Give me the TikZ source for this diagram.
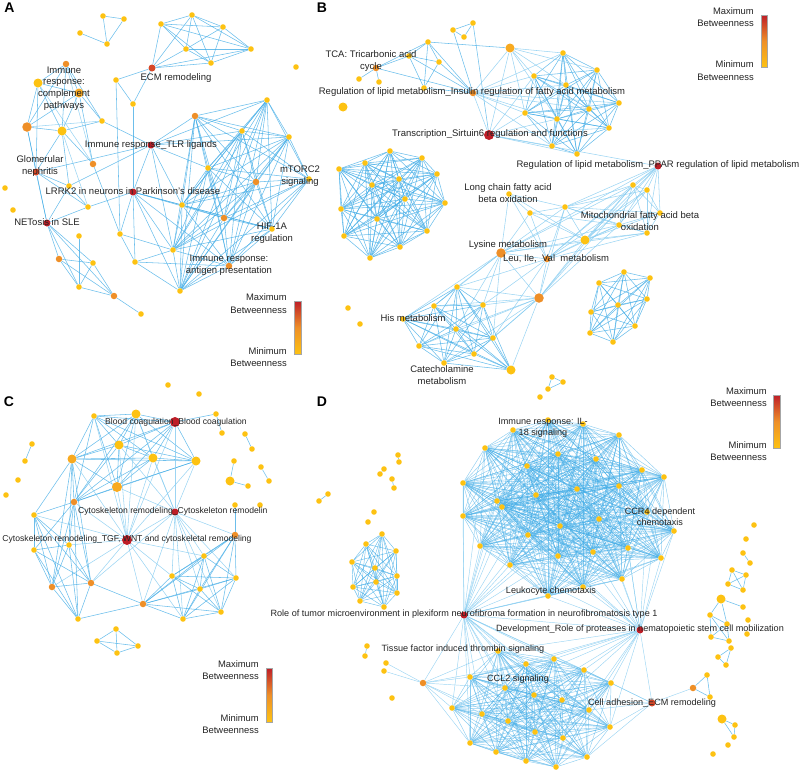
\documentclass[tikz,border=0pt]{standalone}
\usepackage{fontspec}
\setmainfont{Liberation Sans}
\usetikzlibrary{backgrounds}
\definecolor{yel}{RGB}{253,194,18}
\definecolor{yor}{RGB}{248,170,32}
\definecolor{org}{RGB}{238,143,40}
\definecolor{ord}{RGB}{214,72,40}
\definecolor{redd}{RGB}{190,30,40}
\definecolor{eb}{RGB}{66,172,230}
\definecolor{el}{RGB}{132,203,240}
\definecolor{txt}{RGB}{35,35,35}
\newcommand\mknode[4]{\node[#1] (#2) at (#3,#4) {};}
\newcommand\myclique[2][]{\foreach \u [count=\i] in {#2}{\foreach \v [count=\j] in {#2}{\ifnum\i<\j\relax\draw[edge,#1] (\u) -- (\v);\fi}}}
\newcommand\myfan[3][]{\foreach \v in {#3}{\draw[edge,#1] (#2) -- (\v);}}
\newcommand\mypairs[2][]{\foreach \p/\q in {#2}{\draw[edge,#1] (\p) -- (\q);}}
\begin{document}
\begin{tikzpicture}[x=1pt,y=-1pt,
 dot/.style={circle,inner sep=0pt,minimum size=5.6pt,fill=yel,draw=none},
 dY/.style={dot},
 dYb/.style={dot,minimum size=9pt},
 dYo/.style={dot,minimum size=9pt,fill=yor},
 dO/.style={dot,minimum size=6.5pt,fill=org},
 dOb/.style={dot,minimum size=9.5pt,fill=org},
 dOR/.style={dot,minimum size=7pt,fill=ord},
 dR/.style={dot,minimum size=7pt,fill=redd},
 dRb/.style={dot,minimum size=10pt,fill=redd},
 edge/.style={draw=eb,line width=0.55pt,opacity=0.78},
 lite/.style={draw=el,opacity=0.8},
 lblA/.style={inner sep=0pt,align=center,text=txt,font=\fontsize{9.5}{11.6}\selectfont},
 lblB/.style={inner sep=0pt,align=center,text=txt,font=\fontsize{9.5}{12.4}\selectfont},
 lblC/.style={inner sep=0pt,align=center,text=txt,font=\fontsize{8.6}{10}\selectfont},
 lblD/.style={inner sep=0pt,align=center,text=txt,font=\fontsize{9.1}{10.8}\selectfont},
 cbt/.style={inner sep=0pt,align=right,anchor=east,text=txt,font=\fontsize{9.4}{12.5}\selectfont},
 pl/.style={inner sep=0pt,font=\fontsize{14}{14}\selectfont\bfseries},
 cbar/.style={draw=gray!70,line width=0.6pt,top color=redd,bottom color=yel,middle color=org}
]
\useasboundingbox (0,0) rectangle (800,771);

% ---------------- Panel A ----------------
\node[pl] (pA) at (9.5,8) {A};
\mknode{dY}{a1}{103}{16}\mknode{dY}{a2}{124}{19}\mknode{dY}{a3}{107}{44}\mknode{dY}{a4}{80}{33}
\mknode{dY}{e1}{161}{24}\mknode{dY}{e2}{192}{15}\mknode{dY}{e3}{223}{27}\mknode{dY}{e4}{186}{49}
\mknode{dY}{e5}{211}{63}\mknode{dY}{e6}{251}{49}\mknode{dOR}{ecm}{152}{68}
\mknode{dY}{a5}{116}{80}\mknode{dY}{a6}{133}{104}\mknode{dY}{aiso}{296}{67}
\mknode{dO}{c1}{66}{64}\mknode{dYb}{c2}{38}{83}\mknode{dYo}{c3}{79}{93}\mknode{dOb}{c4}{27}{127}
\mknode{dYb}{c5}{62}{131}\mknode{dY}{c6}{102}{121}\mknode{dOR}{glom}{36}{172}\mknode{dO}{c7}{93}{164}
\mknode{dY}{c8}{69}{186}\mknode{dY}{c9}{88}{207}\mknode{dR}{net}{47}{223}
\mknode{dY}{ai1}{5}{188}\mknode{dY}{ai2}{13}{210}
\mknode{dY}{d1}{79}{236}\mknode{dO}{d2}{59}{259}\mknode{dY}{d3}{93}{263}\mknode{dY}{d4}{79}{287}
\mknode{dO}{d5}{114}{296}\mknode{dY}{d6}{141}{314}
\mknode{dR}{tlr}{151}{145}\mknode{dR}{lrrk}{133}{192}
\mknode{dY}{r1}{120}{234}\mknode{dY}{r2}{135}{262}\mknode{dY}{r3}{173}{250}\mknode{dY}{r4}{180}{291}
\mknode{dY}{r5}{182}{205}\mknode{dO}{r6}{195}{116}\mknode{dY}{r7}{208}{168}\mknode{dO}{r8}{224}{218}
\mknode{dO}{r9}{229}{266}\mknode{dY}{r10}{242}{131}\mknode{dO}{r11}{256}{182}\mknode{dY}{r12}{267}{100}
\mknode{dY}{r13}{289}{137}\mknode{dY}{mt}{309}{179}\mknode{dY}{hif}{272}{229}

% ---------------- Panel B ----------------
\node[pl] (pB) at (322,8) {B};
\mknode{dY}{bt1}{453}{30}\mknode{dY}{bt2}{473}{23}\mknode{dY}{bt3}{464}{37}
\mknode{dO}{tca}{376}{68}\mknode{dY}{b1}{359}{79}\mknode{dY}{b2}{379}{82}\mknode{dYb}{biso}{343}{107}
\mknode{dY}{b3}{409}{56}\mknode{dY}{b4}{428}{42}\mknode{dY}{b5}{439}{62}\mknode{dY}{b6}{424}{88}
\mknode{dO}{ins}{473}{93}\mknode{dYo}{bb}{510}{48}
\mknode{dY}{tr1}{563}{53}\mknode{dY}{tr2}{534}{76}\mknode{dY}{tr3}{566}{85}\mknode{dY}{tr4}{597}{70}
\mknode{dY}{tr5}{619}{103}\mknode{dY}{tr6}{589}{109}\mknode{dY}{tr7}{557}{119}\mknode{dY}{tr8}{525}{113}
\mknode{dY}{tr9}{609}{128}\mknode{dY}{tr10}{552}{146}\mknode{dY}{tr11}{577}{154}
\mknode{dRb}{sirt}{489}{135}\mknode{dR}{ppar}{658}{166}
\mknode{dY}{bl1}{390}{151}\mknode{dY}{bl2}{422}{158}\mknode{dY}{bl3}{365}{163}\mknode{dY}{bl4}{339}{169}
\mknode{dY}{bl5}{437}{174}\mknode{dY}{bl6}{399}{179}\mknode{dY}{bl7}{372}{185}\mknode{dY}{bl8}{405}{199}
\mknode{dY}{bl9}{445}{203}\mknode{dY}{bl10}{341}{209}\mknode{dY}{bl11}{377}{219}\mknode{dY}{bl12}{427}{231}
\mknode{dY}{bl13}{344}{236}\mknode{dY}{bl14}{400}{247}\mknode{dY}{bl15}{370}{258}
\mknode{dY}{lc}{509}{194}\mknode{dY}{m1}{530}{213}\mknode{dY}{m2}{565}{207}\mknode{dY}{m3}{633}{185}
\mknode{dY}{m4}{647}{190}\mknode{dY}{m5}{660}{213}\mknode{dY}{m6}{619}{225}\mknode{dY}{m7}{647}{233}
\mknode{dYb}{m8}{585}{240}\mknode{dOb}{lys}{501}{253}\mknode{dO}{leu}{547}{259}\mknode{dOb}{m9}{539}{298}
\mknode{dY}{lo1}{457}{287}\mknode{dY}{lo2}{434}{306}\mknode{dY}{lo3}{483}{305}\mknode{dY}{his}{403}{319}
\mknode{dY}{lo4}{456}{329}\mknode{dY}{lo5}{493}{338}\mknode{dY}{lo6}{419}{346}\mknode{dY}{lo7}{474}{354}
\mknode{dY}{lo8}{444}{363}\mknode{dYb}{lo9}{511}{370}
\mknode{dY}{rc1}{624}{272}\mknode{dY}{rc2}{599}{283}\mknode{dY}{rc3}{650}{278}\mknode{dY}{rc4}{618}{305}
\mknode{dY}{rc5}{647}{299}\mknode{dY}{rc6}{591}{312}\mknode{dY}{rc7}{635}{326}\mknode{dY}{rc8}{590}{333}
\mknode{dY}{rc9}{613}{342}
\mknode{dY}{bi2}{348}{308}\mknode{dY}{bi3}{360}{324}
\mknode{dY}{bq1}{552}{377}\mknode{dY}{bq2}{563}{382}\mknode{dY}{bq3}{548}{389}\mknode{dY}{bq4}{540}{397}

% ---------------- Panel C ----------------
\node[pl] (pC) at (9,402) {C};
\mknode{dY}{cc1}{94}{416}\mknode{dYb}{cc2}{136}{414}\mknode{dRb}{bc}{175}{422}\mknode{dYb}{cc3}{119}{445}
\mknode{dYb}{cc4}{153}{458}\mknode{dYo}{cc5}{72}{459}\mknode{dYb}{cc6}{196}{461}
\node[dYo,minimum size=10pt] (cc7) at (117,487) {};
\mknode{dO}{cc8}{74}{502}\mknode{dR}{cr}{175}{512}\mknode{dY}{cc9}{34}{515}\mknode{dRb}{tgf}{127}{540}
\mknode{dY}{cc10}{34}{550}\mknode{dY}{cc11}{69}{545}\mknode{dO}{cc12}{52}{587}\mknode{dO}{cc13}{91}{583}
\mknode{dY}{cc14}{78}{619}\mknode{dO}{cc15}{143}{604}\mknode{dY}{cc16}{172}{576}\mknode{dY}{cc17}{204}{556}
\mknode{dY}{cc18}{236}{578}\mknode{dY}{cc19}{200}{589}\mknode{dY}{cc20}{221}{612}\mknode{dY}{cc21}{183}{619}
\mknode{dO}{cc22}{235}{535}\mknode{dY}{cc23}{216}{414}\mknode{dY}{cc24}{222}{433}\mknode{dY}{cc25}{235}{505}
\mknode{dY}{ci1}{168}{385}\mknode{dY}{ci2}{199}{394}\mknode{dY}{cp1}{245}{434}\mknode{dY}{cp2}{252}{449}
\mknode{dY}{cp3}{234}{461}\mknode{dYb}{cp4}{230}{481}\mknode{dY}{cp5}{248}{486}\mknode{dY}{cp6}{261}{467}
\mknode{dY}{cp7}{269}{481}\mknode{dY}{cp8}{32}{444}\mknode{dY}{cp9}{25}{461}\mknode{dY}{ci3}{18}{480}
\mknode{dY}{ci4}{6}{495}\mknode{dY}{ci5}{260}{505}
\mknode{dY}{dm1}{116}{629}\mknode{dY}{dm2}{97}{641}\mknode{dY}{dm3}{138}{646}\mknode{dY}{dm4}{117}{653}

% ---------------- Panel D ----------------
\node[pl] (pD) at (322,402) {D};
\mknode{dY}{t1}{513}{430}\mknode{dY}{t2}{583}{424}\mknode{dY}{il}{548}{420}\mknode{dY}{t3}{619}{435}
\mknode{dY}{t4}{485}{448}\mknode{dY}{t5}{558}{454}\mknode{dY}{t6}{596}{459}\mknode{dY}{t7}{527}{466}
\mknode{dY}{t8}{642}{470}\mknode{dY}{t9}{664}{477}\mknode{dY}{t10}{463}{483}\mknode{dY}{t11}{577}{489}
\mknode{dY}{t12}{619}{486}\mknode{dY}{t13}{536}{495}\mknode{dY}{t14}{497}{501}\mknode{dY}{t15}{502}{507}
\mknode{dY}{ccr}{647}{512}\mknode{dY}{t16}{599}{519}\mknode{dY}{t17}{560}{526}\mknode{dY}{t18}{463}{516}
\mknode{dY}{t19}{674}{531}\mknode{dY}{t20}{528}{535}\mknode{dY}{t21}{480}{546}\mknode{dY}{t22}{628}{548}
\mknode{dY}{t23}{593}{552}\mknode{dY}{t24}{558}{556}\mknode{dY}{t25}{661}{558}\mknode{dY}{t26}{510}{565}
\mknode{dY}{t27}{622}{579}\mknode{dY}{t28}{583}{587}\mknode{dY}{leuk}{548}{596}
\mknode{dR}{rt}{464}{615}\mknode{dR}{dv}{640}{630}
\mknode{dY}{tf}{498}{651}\mknode{dOR}{cam}{652}{703}\mknode{dO}{od}{423}{683}
\mknode{dY}{u1}{554}{659}\mknode{dY}{u2}{526}{664}\mknode{dY}{u3}{584}{670}\mknode{dY}{u4}{470}{677}
\mknode{dY}{u5}{611}{683}\mknode{dY}{u6}{505}{688}\mknode{dY}{u7}{534}{695}\mknode{dY}{u8}{562}{700}
\mknode{dY}{u9}{452}{708}\mknode{dY}{u10}{589}{710}\mknode{dY}{u11}{482}{714}\mknode{dY}{u12}{508}{721}
\mknode{dY}{u13}{610}{727}\mknode{dY}{u14}{535}{732}\mknode{dY}{u15}{563}{738}\mknode{dY}{u16}{470}{743}
\mknode{dY}{u17}{496}{752}\mknode{dY}{u18}{587}{757}\mknode{dY}{u19}{526}{761}\mknode{dY}{u20}{556}{767}
\mknode{dY}{l1}{382}{534}\mknode{dY}{l2}{366}{544}\mknode{dY}{l3}{396}{551}\mknode{dY}{l4}{352}{562}
\mknode{dY}{l5}{375}{568}\mknode{dY}{l6}{397}{576}\mknode{dY}{l7}{376}{582}\mknode{dY}{l8}{353}{587}
\mknode{dY}{l9}{397}{593}\mknode{dY}{l10}{360}{601}\mknode{dY}{l11}{384}{607}
\mknode{dY}{s1}{398}{455}\mknode{dY}{s2}{399}{462}\mknode{dY}{s3}{384}{469}\mknode{dY}{s4}{380}{474}
\mknode{dY}{s5}{392}{479}\mknode{dY}{s6}{394}{488}\mknode{dY}{s7}{328}{494}\mknode{dY}{s8}{319}{501}
\mknode{dY}{s9}{374}{512}\mknode{dY}{s10}{368}{522}\mknode{dY}{s11}{367}{646}\mknode{dY}{s12}{365}{656}
\mknode{dY}{od1}{386}{663}\mknode{dY}{od2}{384}{671}\mknode{dY}{s13}{392}{698}
\mknode{dY}{q1}{754}{525}\mknode{dY}{q2}{746}{539}\mknode{dY}{q3}{743}{553}\mknode{dY}{q4}{750}{563}
\mknode{dY}{q5}{732}{570}\mknode{dY}{q6}{746}{575}\mknode{dY}{q7}{728}{584}\mknode{dY}{q8}{743}{590}
\mknode{dYb}{q9}{721}{599}\mknode{dY}{q10}{743}{607}\mknode{dY}{q11}{710}{615}\mknode{dY}{q12}{727}{624}
\mknode{dY}{q13}{748}{620}\mknode{dY}{q14}{747}{634}\mknode{dY}{q15}{711}{637}\mknode{dY}{q16}{729}{641}
\mknode{dY}{q17}{731}{648}\mknode{dY}{q18}{718}{657}\mknode{dY}{q19}{726}{665}
\mknode{dO}{q20}{693}{688}\mknode{dY}{q21}{707}{675}\mknode{dY}{q22}{710}{697}
\mknode{dYb}{q23}{722}{719}\mknode{dY}{q24}{735}{725}\mknode{dY}{q25}{734}{737}
\mknode{dY}{q26}{728}{745}\mknode{dY}{q27}{713}{754}

% ================= EDGES =================
\begin{scope}[on background layer]
% A
\mypairs{a1/a2,a1/a3,a2/a3,a4/a3}
\myclique{e1,e2,e3,e4,e5,e6}
\mypairs{ecm/e1,ecm/e4,ecm/e5,ecm/e6,ecm/e2,ecm/a5,ecm/a6,a5/a6,a5/r1,a6/lrrk}
\myclique{c1,c2,c3,c4,c5}
\mypairs{c3/c6,c5/c6,c1/c6,c2/glom,c4/glom,c5/glom,c5/c7,glom/c8,glom/net,c8/c9,c8/net,c9/net,glom/c9,c3/c7,c7/r1,tlr/glom,tlr/c8,c9/lrrk,c4/net,c5/c8}
\mypairs[lite]{c4/c6,c2/c7,c1/c7,c5/c9}
\mypairs{net/d2,net/d4,net/d5,net/d3,d1/d4,d2/d3,d2/d4,d2/d5,d3/d4,d3/d5,d4/d5,d5/d6}
\myclique{r3,r4,r5,r6,r7,r8,r9,r10,r11,r12,r13,mt,hif}
\myfan{tlr}{r6,r7,r10,r12,r13,r5,lrrk,r3,c6}
\myfan{lrrk}{r1,r2,r4,r5,r8,hif,r3,r9}
\mypairs{r1/r2,r1/r3,r2/r3,r2/r9,r2/r4}
% B
\mypairs{bt1/bt2,bt1/bt3,bt2/bt3,bt1/ins,bt2/sirt}
\mypairs{tca/b1,tca/b2,tca/b3,tca/b4,b3/b4,b3/b5,b4/b5,b3/b6,b4/b6,b5/b6,b6/ins,b4/bb,b4/ins,b5/ins,b3/ins,tca/ins}
\myclique{tr1,tr2,tr3,tr4,tr5,tr6,tr7,tr8,tr9,tr10,tr11}
\myfan[lite]{bb}{ins,sirt,tr1,tr2,tr3,tr4,tr8,tr7}
\myfan[lite]{ins}{sirt,tr1,tr2,tr3,tr8,tr7,tr10,tr6,tr5}
\myfan[lite]{sirt}{tr8,tr7,tr10,tr11,tr2,tr9,ppar}
\myclique{bl1,bl2,bl3,bl4,bl5,bl6,bl7,bl8,bl9,bl10,bl11,bl12,bl13,bl14,bl15}
\myclique[lite]{ppar,m2,m3,m4,m5,m6,m7,m8}
\myfan[lite]{ppar}{lys,m9,leu}
\myfan[lite]{lc}{m1,m2,lys,leu,m8}
\myfan[lite]{m1}{m2,lys,leu,m8,m6}
\myfan[lite]{lys}{m2,m8,m3,m6,m7,leu,m9,lo1,lo2,lo3,his,lo4,lo5}
\myfan[lite]{leu}{m2,m8,m3,m4,m6,m7,m9,lo1,lo3,lo5}
\myfan[lite]{m9}{m8,m2,m3,m6,lo1,lo2,lo3,lo4,lo5,lo6,lo7,lo8,lo9}
\myclique{lo1,lo2,lo3,his,lo4,lo5,lo6,lo7,lo8,lo9}
\myclique{rc1,rc2,rc3,rc4,rc5,rc6,rc7,rc8,rc9}
\mypairs{bq1/bq2,bq1/bq3,bq2/bq3}
% C
\myclique{cc1,cc2,bc,cc3,cc4,cc5,cc6,cc7,cc8}
\myfan[lite]{cr}{bc,cc3,cc4,cc6,cc7,cc2,tgf,cc16,cc17,cc18,cc19,cc20,cc21,cc22,cc15,cc13}
\myfan[lite]{tgf}{cc2,cc3,cc4,cc7,cc5,cc8,cc9,cc11,cc13,cc12,cc15,cc16,cc17,cc21,cc6,bc,cc1}
\myclique{cc9,cc10,cc11,cc12,cc13,cc8,cc14}
\myfan{cc5}{cc9,cc11,cc13,cc12}
\myclique{cc15,cc16,cc17,cc18,cc19,cc20,cc21,cc22}
\mypairs{cc14/cc15,cc13/cc15,bc/cc23,cc23/cc24,cc25/cc22,cp1/cp2,cp3/cp4,cp4/cp5,cp6/cp7,cp8/cp9}
\myclique{dm1,dm2,dm3,dm4}
% D
\myclique[line width=0.45pt,opacity=0.6]{il,t1,t2,t3,t4,t5,t6,t7,t8,t9,t10,t11,t12,t13,t14,t15,ccr,t16,t17,t18,t19,t20,t21,t22,t23,t24,t25,t26,t27,t28,leuk}
\myfan[lite,line width=0.45pt]{rt}{t10,t18,t21,t26,leuk,t24,t28,t27,t4,t14,t15,t20,t17,t13,t22,t12,t1,t7,tf,u1,u2,u3,u4,u5,u6,u7,u8,u9,u10,u11,u12,u14,u16,od,dv}
\myfan[lite,line width=0.45pt]{dv}{t27,t28,leuk,t22,t25,t19,t23,t24,t16,ccr,t12,t17,t9,t26,t20,tf,u1,u2,u3,u5,u6,u7,u8,u10,u13,u15,u4,cam}
\myclique[line width=0.45pt,opacity=0.6]{tf,u1,u2,u3,u4,u5,u6,u7,u8,u9,u10,u11,u12,u13,u14,u15,u16,u17,u18,u19,u20}
\myfan[lite,line width=0.45pt]{od}{tf,u4,u6,u9,u11,u16,u12,u2,od1,od2}
\myfan[lite,line width=0.45pt]{cam}{u5,u3,u10,u13,u18,u8,q20}
\myclique[line width=0.45pt]{l1,l2,l3,l4,l5,l6,l7,l8,l9,l10,l11}
\mypairs{s1/s2,s3/s4,s5/s6,s7/s8,s11/s12,q3/q4}
\myclique{q5,q6,q7,q8}
\mypairs{q9/q10,q9/q11,q9/q12,q11/q12,q11/q15,q11/q16,q12/q16,q15/q16,q12/q15,q17/q18,q17/q19,q18/q19,q20/q21,q20/q22,q21/q22,q23/q24,q23/q25,q24/q25}
\end{scope}

% ================= LABELS =================
% A
\node[lblA] (LA1) at (64,88.5) {Immune\\response:\\complement\\pathways};
\node[lblA] (LA2) at (176,78) {ECM remodeling};
\node[lblA] (LA3) at (151,145) {Immune response\_TLR ligands};
\node[lblA] (LA4) at (40,166) {Glomerular\\nephritis};
\node[lblA] (LA5) at (133,191) {LRRK2 in neurons in Parkinson's disease};
\node[lblA] (LA6) at (300,176) {mTORC2\\signaling};
\node[lblA] (LA7) at (47,222) {NETosis in SLE};
\node[lblA] (LA8) at (272,233) {HIF-1A\\regulation};
\node[lblA] (LA9) at (229,265) {Immune response:\\antigen presentation};
% B
\node[lblB] (LB1) at (371,61) {TCA: Tricarbonic acid\\cycle};
\node[lblB] (LB2) at (472,92) {Regulation of lipid metabolism\_Insulin regulation of fatty acid metabolism};
\node[lblB] (LB3) at (490,134) {Transcription\_Sirtuin6 regulation and functions};
\node[lblB] (LB4) at (658,165) {Regulation of lipid metabolism\_PPAR regulation of lipid metabolism};
\node[lblB] (LB5) at (508,193) {Long chain fatty acid\\beta oxidation};
\node[lblB] (LB6) at (640,221) {Mitochondrial fatty acid beta\\oxidation};
\node[lblB] (LB7) at (508,245) {Lysine metabolism};
\node[lblB] (LB8) at (556,259) {Leu, Ile,\ \ Val\ \ metabolism};
\node[lblB] (LB9) at (413,318) {His metabolism};
\node[lblB] (LB10) at (442,375) {Catecholamine\\metabolism};
% C
\node[lblC] (LC1) at (176,422) {Blood coagulation\_Blood coagulation};
\node[lblC,anchor=west] (LC2) at (78,511) {Cytoskeleton remodeling\_Cytoskeleton remodelin};
\node[lblC] (LC3) at (127,539) {Cytoskeleton remodeling\_TGF, WNT and cytoskeletal remodeling};
% D
\node[lblD] (LD1) at (543,428) {Immune response: IL-\\18 signaling};
\node[lblD] (LD2) at (660,517) {CCR4 dependent\\chemotaxis};
\node[lblD] (LD3) at (551,591) {Leukocyte chemotaxis};
\node[lblD] (LD4) at (464,614) {Role of tumor microenvironment in plexiform neurofibroma formation in neurofibromatosis type 1};
\node[lblD] (LD5) at (640,629) {Development\_Role of proteases in hematopoietic stem cell mobilization};
\node[lblD] (LD6) at (463,649) {Tissue factor induced thrombin signaling};
\node[lblD] (LD7) at (518,679) {CCL2 signaling};
\node[lblD] (LD8) at (652,703) {Cell adhesion\_ECM remodeling};

% ================= COLOUR BARS =================
\shade[cbar] (294,301) rectangle (301,354);
\node[cbt] (kA1) at (287,297) {Maximum};
\node[cbt] (kA2) at (287,310) {Betweenness};
\node[cbt] (kA3) at (287,351) {Minimum};
\node[cbt] (kA4) at (287,363) {Betweenness};
\shade[cbar] (761,15) rectangle (767,67);
\node[cbt] (kB1) at (754,11) {Maximum};
\node[cbt] (kB2) at (754,23) {Betweenness};
\node[cbt] (kB3) at (754,64) {Minimum};
\node[cbt] (kB4) at (754,77) {Betweenness};
\shade[cbar] (266,668) rectangle (272,722);
\node[cbt] (kC1) at (259,664) {Maximum};
\node[cbt] (kC2) at (259,676) {Betweenness};
\node[cbt] (kC3) at (259,718) {Minimum};
\node[cbt] (kC4) at (259,730) {Betweenness};
\shade[cbar] (773,395) rectangle (780,448);
\node[cbt] (kD1) at (767,391) {Maximum};
\node[cbt] (kD2) at (767,403) {Betweenness};
\node[cbt] (kD3) at (767,445) {Minimum};
\node[cbt] (kD4) at (767,457) {Betweenness};
\end{tikzpicture}
\end{document}
